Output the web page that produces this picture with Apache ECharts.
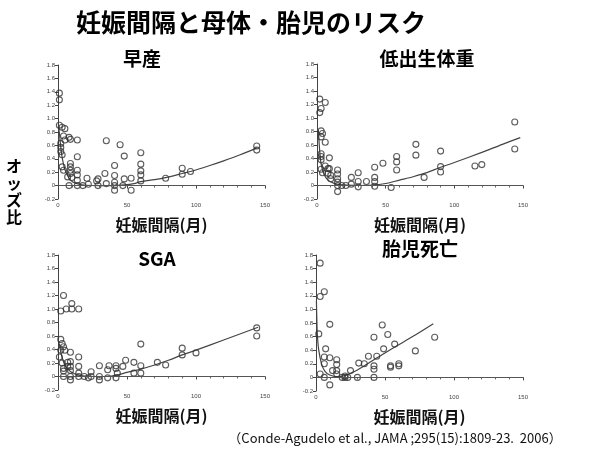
<!DOCTYPE html>
<html>
<head>
<meta charset="utf-8">
<script src="https://cdn.jsdelivr.net/npm/echarts@6/dist/echarts.min.js"></script>
<style>
  html, body { margin: 0; padding: 0; background: #fff; }
  #chart { width: 600px; height: 450px; }
</style>
</head>
<body>
<div id="chart"></div>
<script>
// 早産
const pretermPts = [
  [1,1.38],[1,1.28],[1,0.90],[3,0.87],[5,0.85],[4,0.74],[8,0.72],[5,0.68],[9,0.69],[2,0.63],
  [2,0.57],[2,0.51],[3,0.46],[3,0.28],[4,0.23],[9,0.33],[9,0.28],[9,0.23],[9,0.18],[7,0.13],
  [10,0.12],[8,0],[14,0.68],[14,0.43],[14,0.23],[14,0.16],[14,0.08],[14,0],[18,0],[21,0.11],
  [22,0.02],[28,0.07],[29,0.10],[29,0],[34,0.18],[35,0.67],[35,0.03],[41,0.30],[41,0.15],[41,0.05],
  [41,0],[41,-0.07],[45,0.61],[48,0.44],[48,0.10],[47,0],[53,0.11],[53,-0.07],[60,0.49],[60,0.32],
  [60,0.22],[60,0.16],[60,0.07],[78,0.11],[90,0.26],[90,0.17],[96,0.21],[144,0.59],[144,0.53]
]
const pretermFit = [
  [0.3,0.92],[1,0.78],[2,0.58],[3,0.42],[5,0.24],[8,0.11],[11,0.05],[15,0.02],[20,0.005],[30,0],
  [40,0],[48,0.01],[55,0.03],[60,0.06],[70,0.09],[78,0.12],[90,0.18],[96,0.21],[110,0.30],[120,0.37],
  [132,0.46],[144,0.56]
]

// 低出生体重
const lbwPts = [
  [2,1.28],[2,1.08],[3,1.14],[6,1.23],[3,0.81],[4,0.77],[3,0.72],[6,0.64],[3,0.47],[3,0.43],
  [3,0.38],[3,0.24],[4,0.19],[6,0.29],[8,0.25],[9,0.41],[9,0.25],[8,0.18],[10,0.15],[10,0.10],
  [15,0.23],[15,0.17],[15,0.10],[15,0.05],[15,0],[15,-0.09],[18,0],[21,0],[25,0.12],[25,0.02],
  [30,0.19],[30,0.06],[30,-0.02],[36,0.06],[42,0.27],[42,0.12],[42,0.06],[42,-0.01],[48,0.33],[54,-0.03],
  [58,0.43],[58,0.35],[58,0.23],[72,0.61],[72,0.45],[78,0.12],[90,0.51],[90,0.28],[90,0.20],[115,0.29],
  [120,0.31],[144,0.94],[144,0.54]
]
const lbwFit = [
  [1,0.82],[1.5,0.65],[2,0.5],[3,0.32],[5,0.17],[8,0.08],[12,0.035],[16,0.015],[22,0.005],[30,0],
  [40,0.005],[50,0.03],[60,0.08],[70,0.13],[80,0.19],[90,0.27],[100,0.34],[120,0.49],[135,0.61],[148,0.71]
]

// SGA
const sgaPts = [
  [2,0.97],[4,1.20],[6,1.00],[10,1.08],[10,1.00],[15,1.00],[2,0.55],[3,0.49],[4,0.44],[2,0.39],
  [5,0.39],[9,0.36],[1,0.29],[3,0.20],[4,0.12],[4,0.08],[4,0],[7,0.21],[7,0.15],[9,0.22],
  [9,0.15],[9,0.09],[9,0],[9,-0.05],[15,0.29],[15,0.15],[15,0.05],[15,0],[19,0],[22,-0.02],
  [24,0.07],[24,0],[30,0.16],[30,0],[30,-0.05],[36,0.10],[37,0.16],[36,-0.02],[42,0.16],[42,0.12],
  [42,-0.02],[43,0.05],[47,0.15],[49,0.24],[55,0.21],[55,0.05],[60,0.48],[60,0.16],[60,0.05],[72,0.21],
  [78,0.17],[90,0.42],[90,0.32],[100,0.35],[144,0.72],[144,0.60]
]
const sgaFit = [
  [1,0.48],[2,0.36],[3,0.28],[5,0.17],[8,0.09],[12,0.04],[18,0.01],[25,0],[35,0],[42,0.02],
  [50,0.06],[60,0.11],[70,0.17],[80,0.24],[90,0.32],[100,0.39],[120,0.54],[145,0.73]
]

// 胎児死亡
const fdPts = [
  [3,1.68],[3,1.19],[6,1.26],[2,0.64],[10,0.78],[7,0.42],[6,0.30],[10,0.29],[6,0.20],[3,0.05],
  [6,0],[10,-0.11],[12,0.10],[15,0.26],[15,0.19],[15,0.10],[15,0.05],[19,0],[21,0.02],[21,0],
  [23,0],[25,0.10],[31,0.21],[30,0],[35,0.20],[38,0.31],[42,0.59],[42,0.17],[42,0.12],[42,0],
  [44,0.31],[48,0.77],[49,0.42],[52,0.63],[54,0.17],[54,0.15],[57,0.49],[60,0.20],[60,0.17],[72,0.39],
  [86,0.59]
]
const fdFit = [
  [0.3,1.13],[0.6,0.85],[1,0.62],[2,0.40],[4,0.20],[6.5,0.09],[10,0.035],[15,0.01],[20,0.02],[25,0.06],
  [30,0.11],[42,0.26],[50,0.36],[60,0.48],[70,0.60],[85,0.79]
]

const panelTitles = ['早産', '低出生体重', 'SGA', '胎児死亡']
const panelPts = [pretermPts, lbwPts, sgaPts, fdPts]
const panelFits = [pretermFit, lbwFit, sgaFit, fdFit]
const xName = '妊娠間隔(月)'

const font = '"Noto Sans CJK JP", "Noto Sans", sans-serif'

// grid boxes (left, top, width, height)
const boxes = [
  [58, 65, 207, 134],
  [317, 64, 206, 135],
  [58, 255, 207, 135],
  [316, 255, 207, 136]
]

const grid = []
const xAxis = []
const yAxis = []
const series = []

boxes.forEach((b, i) => {
  grid.push({ left: b[0], top: b[1], width: b[2], height: b[3] })
  xAxis.push({
    gridIndex: i,
    type: 'value',
    min: 0,
    max: 150,
    interval: 50,
    name: xName,
    nameLocation: 'middle',
    nameGap: 18,
    nameTextStyle: { fontFamily: font, fontSize: 16, fontWeight: 'bold', color: '#111' },
    axisLine: { lineStyle: { color: '#444', width: 1 } },
    axisTick: { length: 3, lineStyle: { color: '#444' } },
    minorTick: { show: true, splitNumber: 5, length: 2, lineStyle: { color: '#666' } },
    axisLabel: { fontSize: 6, color: '#444', margin: 3, fontFamily: 'Arial, sans-serif' },
    splitLine: { show: false }
  })
  yAxis.push({
    gridIndex: i,
    type: 'value',
    min: -0.2,
    max: 1.8,
    interval: 0.2,
    axisLine: { show: true, lineStyle: { color: '#444', width: 1 } },
    axisTick: { show: true, length: 3, lineStyle: { color: '#444' } },
    axisLabel: {
      fontSize: 6, color: '#444', margin: 3, fontFamily: 'Arial, sans-serif',
      formatter: v => Math.abs(v) < 1e-9 ? '0' : v.toFixed(1)
    },
    splitLine: { show: false }
  })
  series.push({
    type: 'line',
    xAxisIndex: i,
    yAxisIndex: i,
    data: panelFits[i],
    smooth: 0.3,
    showSymbol: false,
    silent: true,
    lineStyle: { color: '#444', width: 1.2 },
    markLine: {
      silent: true,
      symbol: 'none',
      label: { show: false },
      lineStyle: { color: '#555', width: 1, type: 'solid' },
      data: [{ yAxis: 0 }]
    },
    z: 3
  })
  series.push({
    type: 'scatter',
    xAxisIndex: i,
    yAxisIndex: i,
    data: panelPts[i],
    symbol: 'circle',
    symbolSize: 6,
    itemStyle: { color: 'rgba(255,255,255,0)', borderColor: '#333', borderWidth: 1.1 },
    z: 4
  })
})

const titlePos = [[142, 59], [427, 59], [157, 259], [420, 249]]

const graphic = [
  {
    type: 'text', x: 251, y: 22,
    style: { text: '妊娠間隔と母体・胎児のリスク', font: 'bold 25px ' + font, fill: '#000', align: 'center', verticalAlign: 'middle' }
  },
  {
    type: 'text', x: 14, y: 191,
    style: { text: 'オ\nッ\nズ\n比', font: 'bold 16px ' + font, lineHeight: 17, fill: '#000', align: 'center', verticalAlign: 'middle' }
  },
  {
    type: 'text', x: 395, y: 438,
    style: { text: '（Conde-Agudelo et al., JAMA ;295(15):1809-23.  2006）', font: '13px ' + font, fill: '#111', align: 'center', verticalAlign: 'middle' }
  }
]
titlePos.forEach((p, i) => {
  graphic.push({
    type: 'text', x: p[0], y: p[1],
    style: { text: panelTitles[i], font: 'bold 19px ' + font, fill: '#000', align: 'center', verticalAlign: 'middle' }
  })
})

const chart = echarts.init(document.getElementById('chart'))
chart.setOption({
  animation: false,
  backgroundColor: '#fff',
  grid,
  xAxis,
  yAxis,
  series,
  graphic
})
</script>
</body>
</html>
